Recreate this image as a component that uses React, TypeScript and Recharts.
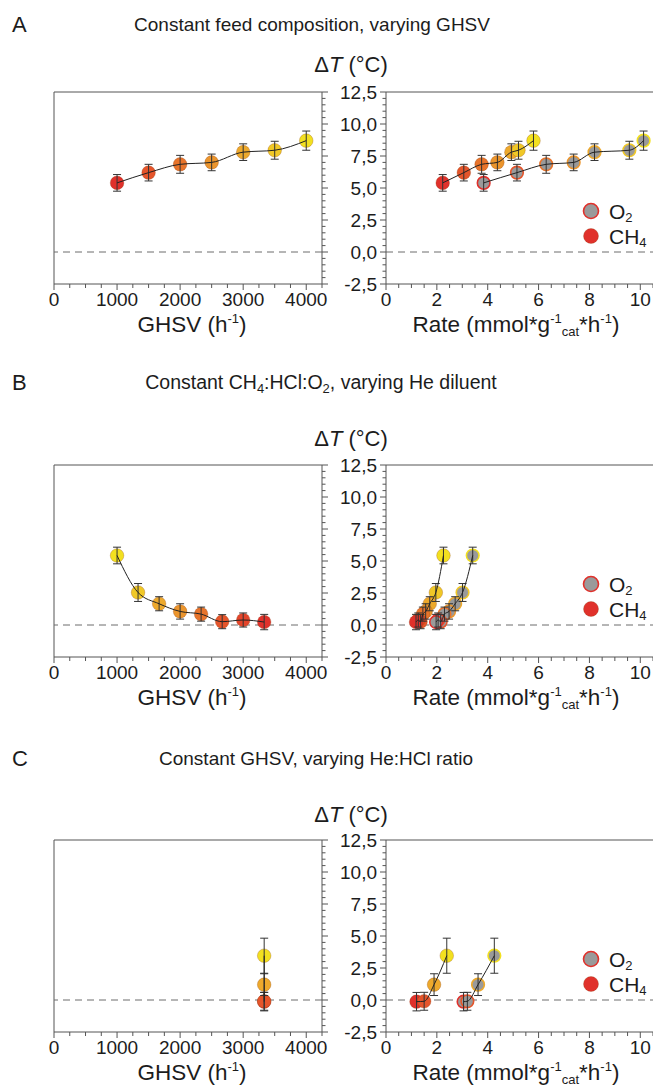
import React from 'react';
import { ComposedChart, Scatter, Line, XAxis, YAxis, ReferenceLine, ErrorBar } from 'recharts';

const FONT = '"Liberation Sans", Arial, Helvetica, sans-serif';
const AXIS = '#555555';
const TXT = '#1c1c1c';
const GRAY = '#9a9a9a';

const C_RED = '#e0312b';
const C_REDOR = '#e5552b';
const C_OR1 = '#e8742b';
const C_OR2 = '#eb952d';
const C_OR3 = '#eda92c';
const C_YEL1 = '#f0c827';
const C_YEL2 = '#f2e020';

// ---------- Panel A: constant feed composition, varying GHSV ----------
const ghsvA = [1000, 1500, 2000, 2500, 3000, 3500, 4000];
const dTA = [5.4, 6.2, 6.85, 7.0, 7.8, 7.95, 8.7];
const errA = [0.65, 0.65, 0.7, 0.65, 0.65, 0.7, 0.75];
const rateCH4A = [2.23, 3.06, 3.76, 4.38, 4.93, 5.21, 5.8];
const rateO2A = [3.84, 5.15, 6.3, 7.38, 8.2, 9.57, 10.13];
const colorsA = [C_RED, C_REDOR, C_OR1, C_OR2, C_OR3, C_YEL1, C_YEL2];

// ---------- Panel B: constant CH4:HCl:O2, varying He diluent ----------
const ghsvB = [1000, 1333, 1667, 2000, 2333, 2667, 3000, 3333];
const dTB = [5.43, 2.54, 1.66, 1.06, 0.85, 0.26, 0.39, 0.23];
const errB = [0.65, 0.7, 0.55, 0.6, 0.55, 0.55, 0.55, 0.6];
const rateCH4B = [2.26, 1.96, 1.72, 1.56, 1.45, 1.36, 1.27, 1.18];
const rateO2B = [3.41, 3.01, 2.72, 2.48, 2.3, 2.15, 2.05, 1.97];
const colorsB = [C_YEL2, C_YEL1, C_OR3, C_OR2, C_OR1, C_REDOR, '#e3452b', C_RED];

// ---------- Panel C: constant GHSV, varying He:HCl ratio ----------
const ghsvC = [3333, 3333, 3333, 3333];
const dTC = [-0.13, -0.1, 1.2, 3.46];
const errC = [0.72, 0.7, 0.85, 1.37];
const rateCH4C = [1.2, 1.5, 1.89, 2.39];
const rateO2C = [3.05, 3.2, 3.62, 4.26];
const colorsC = [C_RED, C_REDOR, C_OR3, C_YEL2];

// ---------- ticks ----------
const range = (a: number, b: number, s: number) => {
  const out: number[] = [];
  for (let v = a; v <= b + 1e-9; v += s) out.push(Math.round(v * 1000) / 1000);
  return out;
};
const ticksDT = range(-2.5, 12.5, 0.5);
const ticksGHSV = range(0, 4250, 250);
const ticksRate = range(0, 10.5, 0.5);
const majorDT = [-2.5, 0, 2.5, 5, 7.5, 10, 12.5];
const majorGHSV = [0, 1000, 2000, 3000, 4000];
const majorRate = [0, 2, 4, 6, 8, 10];
const fmtDT = (v: number) => v.toFixed(1).replace('.', ',');

type Row = { x: number; y: number; e: number; c: string };
const rows = (xs: number[], ys: number[], es: number[], cs: string[]): Row[] =>
  xs.map((x, i) => ({ x, y: ys[i], e: es[i], c: cs[i] }));
const sortX = (r: Row[]) => [...r].sort((a, b) => a.x - b.x);

const isIn = (arr: number[], v: number) => arr.some((m) => Math.abs(m - v) < 1e-6);

const TICK_FS = 19;

const XTick = (majors: number[], fmt: (v: number) => string) => (p: any) => {
  const { x, y, payload } = p;
  const v = payload.value;
  const major = isIn(majors, v);
  const len = major ? 6 : 4;
  return (
    <g>
      <line x1={x} x2={x} y1={y} y2={y + len} stroke={AXIS} strokeWidth={1} />
      {major && (
        <text x={x} y={y + 15} textAnchor="middle" dominantBaseline="central" fontSize={TICK_FS} fontFamily={FONT} fill={TXT}>
          {fmt(v)}
        </text>
      )}
    </g>
  );
};

const YTickLeft = (p: any) => {
  const { x, y, payload } = p;
  const v = payload.value;
  const major = isIn(majorDT, v);
  const len = major ? 6 : 3.5;
  return (
    <g>
      <line x1={x} x2={x - len} y1={y} y2={y} stroke={AXIS} strokeWidth={1} />
      {major && (
        <text x={x - 9} y={y} textAnchor="end" dominantBaseline="central" fontSize={TICK_FS} fontFamily={FONT} fill={TXT}>
          {fmtDT(v)}
        </text>
      )}
    </g>
  );
};

const YTickRight = (p: any) => {
  const { x, y, payload } = p;
  const v = payload.value;
  const major = isIn(majorDT, v);
  const len = major ? 6 : 3.5;
  return <line x1={x} x2={x + len} y1={y} y2={y} stroke={AXIS} strokeWidth={1} />;
};

const ch4Shape = (p: any) => (
  <circle cx={p.cx} cy={p.cy} r={6.8} fill={p.payload.c} stroke="rgba(140,60,10,0.35)" strokeWidth={0.8} />
);
const o2Shape = (p: any) => (
  <circle cx={p.cx} cy={p.cy} r={6.3} fill={GRAY} stroke={p.payload.c} strokeWidth={1.6} />
);

const PLOT_H = 192;

function LeftPlot({ top, data, lineType }: { top: number; data: Row[]; lineType: any }) {
  return (
    <div style={{ position: 'absolute', left: 0, top: top - 10 }}>
      <ComposedChart width={345} height={PLOT_H + 70} margin={{ top: 10, left: 54, right: 13, bottom: 30 }}>
        <XAxis
          type="number"
          dataKey="x"
          domain={[0, 4250]}
          ticks={ticksGHSV}
          interval={0}
          height={30}
          tickSize={0}
          tickMargin={0}
          tickLine={false}
          stroke={AXIS}
          tick={XTick(majorGHSV, (v) => String(v))}
          allowDataOverflow
        />
        <YAxis
          type="number"
          dataKey="y"
          orientation="right"
          domain={[-2.5, 12.5]}
          ticks={ticksDT}
          interval={0}
          width={10}
          tickSize={0}
          tickMargin={0}
          tickLine={false}
          stroke={AXIS}
          tick={YTickRight}
          allowDataOverflow
        />
        <ReferenceLine x={0} stroke={AXIS} strokeWidth={1} />
        <ReferenceLine y={12.5} stroke={AXIS} strokeWidth={1} />
        <ReferenceLine y={0} stroke="#6d6d6d" strokeDasharray="7 5" strokeWidth={1} />
        <Scatter data={data} dataKey="y" shape={ch4Shape} isAnimationActive={false} />
        <Line zIndex={700} data={sortX(data)} dataKey="y" type={lineType} stroke="#222" strokeWidth={1} dot={false} activeDot={false} isAnimationActive={false}>
          <ErrorBar zIndex={700} dataKey="e" direction="y" width={4} stroke="#333" strokeWidth={1} />
        </Line>
      </ComposedChart>
    </div>
  );
}

function RightPlot({ top, ch4, o2 }: { top: number; ch4: Row[]; o2: Row[] }) {
  return (
    <div style={{ position: 'absolute', left: 300, top: top - 10 }}>
      <ComposedChart width={353} height={PLOT_H + 70} margin={{ top: 10, left: 36, right: 0, bottom: 30 }}>
        <XAxis
          type="number"
          dataKey="x"
          domain={[0, 10.5]}
          ticks={ticksRate}
          interval={0}
          height={30}
          tickSize={0}
          tickMargin={0}
          tickLine={false}
          stroke={AXIS}
          tick={XTick(majorRate, (v) => String(v))}
          allowDataOverflow
        />
        <YAxis
          type="number"
          dataKey="y"
          orientation="left"
          domain={[-2.5, 12.5]}
          ticks={ticksDT}
          interval={0}
          width={50}
          tickSize={0}
          tickMargin={0}
          tickLine={false}
          stroke={AXIS}
          tick={YTickLeft}
          allowDataOverflow
        />
        <ReferenceLine y={12.5} stroke={AXIS} strokeWidth={1} />
        <ReferenceLine y={0} stroke="#6d6d6d" strokeDasharray="7 5" strokeWidth={1} />
        <Scatter data={ch4} dataKey="y" shape={ch4Shape} isAnimationActive={false} />
        <Scatter data={o2} dataKey="y" shape={o2Shape} isAnimationActive={false} />
        <Line zIndex={700} data={sortX(ch4)} dataKey="y" type="monotone" stroke="#222" strokeWidth={1} dot={false} activeDot={false} isAnimationActive={false}>
          <ErrorBar zIndex={700} dataKey="e" direction="y" width={4} stroke="#333" strokeWidth={1} />
        </Line>
        <Line zIndex={700} data={sortX(o2)} dataKey="y" type="monotone" stroke="#222" strokeWidth={1} dot={false} activeDot={false} isAnimationActive={false}>
          <ErrorBar zIndex={700} dataKey="e" direction="y" width={4} stroke="#333" strokeWidth={1} />
        </Line>
      </ComposedChart>
    </div>
  );
}

const SUP = { fontSize: 13 };

function PanelTexts({ letter, titleY, title, dtY, top }: { letter: string; titleY: number; title: React.ReactNode; dtY: number; top: number }) {
  const axY = top + PLOT_H + 40;
  const legY = top + 119;
  return (
    <g fontFamily={FONT} fill={TXT}>
      <text x={12} y={titleY} fontSize={22} dominantBaseline="central">{letter}</text>
      {title}
      <text x={351} y={dtY} fontSize={22} textAnchor="middle" dominantBaseline="central">
        <tspan>Δ</tspan>
        <tspan fontStyle="italic">T</tspan>
        <tspan> (°C)</tspan>
      </text>
      <text x={192} y={axY} fontSize={22.5} textAnchor="middle" dominantBaseline="central">
        <tspan>GHSV (h</tspan>
        <tspan dy={-6} {...SUP}>-1</tspan>
        <tspan dy={6}>)</tspan>
      </text>
      <text x={516} y={axY} fontSize={22.5} textAnchor="middle" dominantBaseline="central">
        <tspan>Rate (mmol*g</tspan>
        <tspan dy={-6} {...SUP}>-1</tspan>
        <tspan dy={13} {...SUP}>cat</tspan>
        <tspan dy={-7}>*h</tspan>
        <tspan dy={-6} {...SUP}>-1</tspan>
        <tspan dy={6}>)</tspan>
      </text>
      <circle cx={591} cy={legY} r={7.5} fill={GRAY} stroke={C_RED} strokeWidth={1.6} />
      <circle cx={591} cy={legY + 25} r={7.5} fill={C_RED} stroke="rgba(140,60,10,0.35)" strokeWidth={0.8} />
      <text x={609} y={legY} fontSize={21} dominantBaseline="central">
        <tspan>O</tspan>
        <tspan dy={6} {...SUP}>2</tspan>
      </text>
      <text x={609} y={legY + 25} fontSize={21} dominantBaseline="central">
        <tspan>CH</tspan>
        <tspan dy={6} {...SUP}>4</tspan>
      </text>
    </g>
  );
}

const TOP_A = 92;
const TOP_B = 465;
const TOP_C = 840;

export default function App() {
  const aLeft = rows(ghsvA, dTA, errA, colorsA);
  const aCH4 = rows(rateCH4A, dTA, errA, colorsA);
  const aO2 = rows(rateO2A, dTA, errA, colorsA);
  const bLeft = rows(ghsvB, dTB, errB, colorsB);
  const bCH4 = rows(rateCH4B, dTB, errB, colorsB);
  const bO2 = rows(rateO2B, dTB, errB, colorsB);
  const cLeft = rows(ghsvC, dTC, errC, colorsC);
  const cCH4 = rows(rateCH4C, dTC, errC, colorsC);
  const cO2 = rows(rateO2C, dTC, errC, colorsC);

  return (
    <div style={{ position: 'absolute', left: 0, top: 0, width: 653, height: 1092, background: '#fff', overflow: 'hidden' }}>
      <LeftPlot top={TOP_A} data={aLeft} lineType="monotone" />
      <RightPlot top={TOP_A} ch4={aCH4} o2={aO2} />
      <LeftPlot top={TOP_B} data={bLeft} lineType="monotone" />
      <RightPlot top={TOP_B} ch4={bCH4} o2={bO2} />
      <LeftPlot top={TOP_C} data={cLeft} lineType="linear" />
      <RightPlot top={TOP_C} ch4={cCH4} o2={cO2} />
      <svg width={653} height={1092} style={{ position: 'absolute', left: 0, top: 0, pointerEvents: 'none' }}>
        <PanelTexts
          letter="A"
          titleY={24}
          dtY={64}
          top={TOP_A}
          title={
            <text x={312} y={24} fontSize={19} textAnchor="middle" dominantBaseline="central">
              Constant feed composition, varying GHSV
            </text>
          }
        />
        <PanelTexts
          letter="B"
          titleY={382}
          dtY={438}
          top={TOP_B}
          title={
            <text x={321} y={382} fontSize={19.5} textAnchor="middle" dominantBaseline="central">
              <tspan>Constant CH</tspan>
              <tspan dy={6} {...SUP}>4</tspan>
              <tspan dy={-6}>:HCl:O</tspan>
              <tspan dy={6} {...SUP}>2</tspan>
              <tspan dy={-6}>, varying He diluent</tspan>
            </text>
          }
        />
        <PanelTexts
          letter="C"
          titleY={758}
          dtY={814}
          top={TOP_C}
          title={
            <text x={316} y={758} fontSize={19} textAnchor="middle" dominantBaseline="central">
              Constant GHSV, varying He:HCl ratio
            </text>
          }
        />
      </svg>
    </div>
  );
}
